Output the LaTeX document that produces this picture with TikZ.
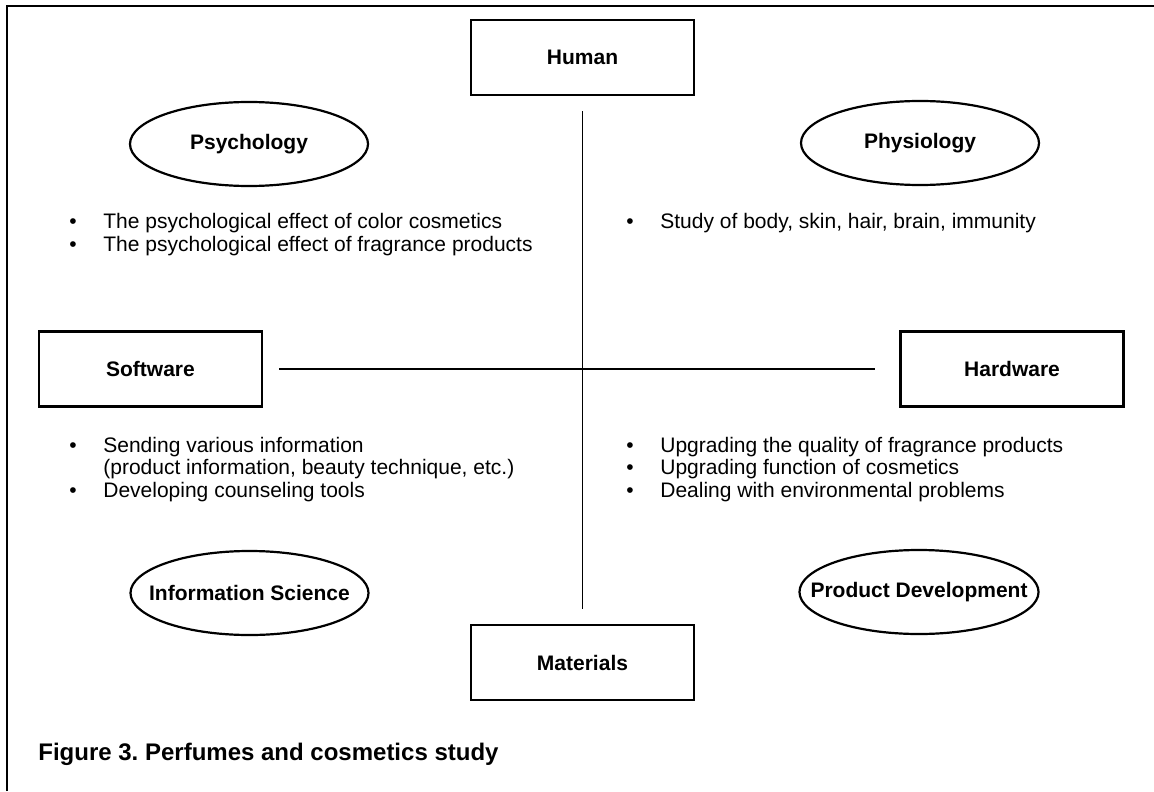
\documentclass[tikz,border=0pt]{standalone}
\usepackage{fontspec}
\setmainfont{Liberation Sans}
\usetikzlibrary{shapes.geometric, positioning}
\frenchspacing

\newcommand{\blt}{\makebox[17pt][l]{\textbullet}}

\tikzset{
	box/.style={draw, line width=1.2pt, minimum width=111.5pt, minimum height=37.5pt, inner sep=0pt, font=\bfseries\fontsize{10.5}{12}\selectfont},
	oval/.style={draw, ellipse, line width=1.1pt, inner xsep=-12pt, inner ysep=0pt, minimum width=119pt, minimum height=42pt, font=\bfseries\fontsize{10.5}{12}\selectfont},
	itm/.style={anchor=base west, inner sep=0pt, font=\fontsize{10.5}{12}\selectfont},
	link/.style={line width=0.75pt},
}

\begin{document}
\begin{tikzpicture}[x=0.5pt, y=-0.5pt]
		\useasboundingbox (0,0) rectangle (1154,791);
		\draw [line width=1pt] (7,791) -- (7,6) -- (1154,6);
		
		%----------------------------------------------------------------
		\node(human) [box] at (582.5,57.5) {Human};
		\node(materials) [box] at (582.5,662.5) {Materials};
		\node(software) [box] at (150.5,369) {Software};
		\node(hardware) [box] at (1012,369) {Hardware};
		
		\draw [link, shorten <=7.5pt, shorten >=7.5pt] (human) -- (materials);
		\draw [link, shorten <=8pt, shorten >=12pt] (software) -- (hardware);
		
		%----------------------------------------------------------------
		\node(psychology) [oval] at (249,144) {Psychology};
		\node(physiology) [oval] at (920,143) {Physiology};
		\node(infosci) [oval] at (249.5,593) {Information Science};
		\node(proddev) [oval] at (919,592) {Product Development};
		
		%----------------------------------------------------------------
		\node(colour) [itm] at (69,228) {\blt The psychological effect of color cosmetics};
		\node(fragrance) [itm] at (69,251) {\blt The psychological effect of fragrance products};
		
		\node(body) [itm] at (626,228) {\blt Study of body, skin, hair, brain, immunity};
		
		\node(sending) [itm] at (69,452) {\blt Sending various information};
		\node(sendingb) [itm] at (103,474) {(product information, beauty technique, etc.)};
		\node(tools) [itm] at (69,497) {\blt Developing counseling tools};
		
		\node(quality) [itm] at (626,452) {\blt Upgrading the quality of fragrance products};
		\node(function) [itm] at (626,474.5) {\blt Upgrading function of cosmetics};
		\node(environ) [itm] at (626,497) {\blt Dealing with environmental problems};
		
		%----------------------------------------------------------------
		\node(caption) [anchor=base west, inner sep=0pt, font=\bfseries\fontsize{12}{14}\selectfont] at (38,760) {Figure 3. Perfumes and cosmetics study};
		
	\end{tikzpicture}
\end{document}
